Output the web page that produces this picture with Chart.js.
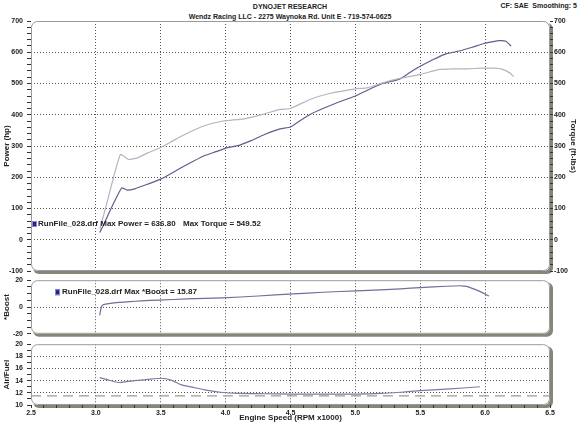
<!DOCTYPE html>
<html>
<head>
<meta charset="utf-8">
<script src="https://cdn.jsdelivr.net/npm/chart.js@4.4.0/dist/chart.umd.min.js"></script>
<style>
  body { margin:0; background:#fff; width:580px; height:423px; overflow:hidden; position:relative; font-family:"Liberation Sans", Arial, sans-serif; }
  canvas { position:absolute; left:0; }
  .hdr { position:absolute; font-weight:bold; font-size:7px; color:#222; white-space:nowrap; line-height:9px; }
</style>
</head>
<body>
<div class="hdr" style="left:0;width:580px;text-align:center;top:2px">DYNOJET RESEARCH</div>
<div class="hdr" style="left:0;width:580px;text-align:center;top:12px">Wendz Racing LLC - 2275 Waynoka Rd. Unit E - 719-574-0625</div>
<div class="hdr" style="right:3px;top:1px">CF: SAE&nbsp;&nbsp;Smoothing: 5</div>

<canvas id="cMain" width="580" height="280" style="top:0"></canvas>
<canvas id="cBoost" width="580" height="70" style="top:272px"></canvas>
<canvas id="cAf" width="580" height="87" style="top:336px"></canvas>

<script>
// Power (hp) vs engine speed (RPM x1000)
const powerRpm = [3.03, 3.06, 3.10, 3.15, 3.20, 3.24, 3.30, 3.40, 3.50, 3.60, 3.70, 3.83, 3.92, 4.01, 4.11, 4.20, 4.30, 4.42, 4.50, 4.57, 4.65, 4.75, 4.85, 5.00, 5.10, 5.21, 5.34, 5.42, 5.50, 5.60, 5.70, 5.80, 5.90, 5.99, 6.05, 6.11, 6.16, 6.20];
const powerHp  = [23, 48, 85, 128, 166, 159, 163, 178, 194, 217, 240, 268, 281, 294, 303, 318, 337, 355, 361, 380, 401, 420, 437, 460, 480, 500, 514, 535, 555, 577, 595, 604, 616, 628, 633, 637, 635, 620];

// Torque (ft-lbs)
const torqueRpm = [3.03, 3.08, 3.13, 3.19, 3.25, 3.32, 3.40, 3.50, 3.60, 3.70, 3.83, 3.98, 4.14, 4.30, 4.42, 4.50, 4.65, 4.80, 5.00, 5.09, 5.21, 5.35, 5.50, 5.65, 5.75, 5.86, 5.98, 6.07, 6.13, 6.19, 6.22];
const torqueLb  = [33, 110, 190, 273, 257, 262, 278, 295, 318, 340, 364, 380, 387, 403, 417, 420, 449, 468, 483, 486, 502, 517, 529, 545, 547, 547, 549, 549, 546, 534, 522];

// Boost (psi)
const boostRpm = [3.03, 3.035, 3.045, 3.06, 3.10, 3.18, 3.26, 3.35, 3.49, 3.70, 3.98, 4.25, 4.52, 4.75, 5.01, 5.19, 5.35, 5.50, 5.70, 5.80, 5.84, 5.87, 5.95, 6.03];
const boostPsi = [-6.2, -3.0, 0.6, 1.8, 2.5, 3.4, 4.0, 4.6, 5.2, 6.0, 6.8, 8.2, 9.8, 11.0, 12.1, 12.8, 13.6, 14.5, 15.5, 15.87, 15.6, 15.0, 12.0, 8.2];

// Air/Fuel ratio
const afRpm   = [3.03, 3.10, 3.18, 3.30, 3.40, 3.50, 3.58, 3.66, 3.75, 3.85, 3.96, 4.10, 4.30, 4.50, 4.75, 5.01, 5.20, 5.35, 5.50, 5.70, 5.96];
const afRatio = [14.5, 14.1, 13.7, 14.0, 14.2, 14.4, 14.1, 13.3, 12.9, 12.45, 12.1, 11.9, 11.85, 11.8, 11.8, 11.8, 11.9, 12.1, 12.35, 12.6, 13.0];
const afTarget = 11.5;

const rpmMin = 2.5, rpmMax = 6.5;
const legendMain = ['RunFile_028.drf Max Power = 636.80', 'Max Torque = 549.52'];
const legendBoost = 'RunFile_028.drf Max *Boost = 15.87';

const pts = (xs, ys) => xs.map((x, i) => ({ x, y: ys[i] }));

Chart.defaults.font.family = '"Liberation Sans", Arial, sans-serif';
Chart.defaults.font.size = 7;
Chart.defaults.font.weight = 'bold';
Chart.defaults.color = '#222';

const GRID = '#555';
const titleFont = { size: 8, weight: 'bold' };

function rrect(c, x, y, w, h, r) {
    c.beginPath();
    c.moveTo(x + r, y);
    c.arcTo(x + w, y, x + w, y + h, r);
    c.arcTo(x + w, y + h, x, y + h, r);
    c.arcTo(x, y + h, x, y, r);
    c.arcTo(x, y, x + w, y, r);
    c.closePath();
}

// caixa do painel com sombra
const panelPlugin = {
    id: 'panel',
    beforeDraw(chart) {
        const a = chart.chartArea, c = chart.ctx;
        c.save();
        c.fillStyle = '#85857a';
        rrect(c, a.left + 2, a.top + 2, a.width + 1, a.height + 1, 6);
        c.fill();
        c.fillStyle = '#fff';
        rrect(c, a.left, a.top, a.width, a.height, 6);
        c.fill();
        c.restore();
    },
    afterDraw(chart) {
        const a = chart.chartArea, c = chart.ctx;
        c.save();
        c.strokeStyle = '#9a9a9a';
        c.lineWidth = 1;
        rrect(c, a.left + 0.5, a.top + 0.5, a.width - 1, a.height - 1, 6);
        c.stroke();
        const leg = chart.options.plugins.panel;
        if (leg && leg.texts) {
            const x = a.left + leg.dx, y = a.top + leg.dy;
            c.fillStyle = '#23238a';
            c.fillRect(x, y - 3, 5, 6);
            c.strokeStyle = '#8888cc';
            c.strokeRect(x + 0.5, y - 2.5, 4, 5);
            c.fillStyle = '#222';
            c.font = 'bold 8px "Liberation Sans", Arial, sans-serif';
            c.textBaseline = 'middle';
            leg.texts.forEach(t => c.fillText(t.s, a.left + t.x, y));
        }
        c.restore();
    }
};

const isHalf = v => Math.round(v * 10) % 5 === 0;

function xScale(showLabels) {
    return {
        type: 'linear', min: rpmMin, max: rpmMax,
        ticks: {
            display: showLabels, stepSize: showLabels ? 0.1 : 0.5, autoSkip: false, maxRotation: 0, padding: 1,
            callback: v => isHalf(v) ? v.toFixed(1) : ''
        },
        grid: {
            drawTicks: showLabels, tickLength: 3, tickColor: '#333',
            color: ctx => (isHalf(ctx.tick.value) && ctx.tick.value > rpmMin + 0.01 && ctx.tick.value < rpmMax - 0.01) ? GRID : 'transparent'
        },
        border: { display: false, dash: [1, 2] },
        title: { display: showLabels, text: 'Engine Speed (RPM x1000)', font: titleFont, padding: { top: 0, bottom: 0 } },
        afterFit: s => { s.height = showLabels ? 18 : 0; }
    };
}

function yScale(pos, min, max, minor, major, title, width, showGrid) {
    return {
        type: 'linear', position: pos, min, max,
        ticks: {
            stepSize: minor, autoSkip: false, padding: pos === 'left' ? 4 : 1,
            callback: v => (Math.abs(v % major) < 1e-6) ? v : ''
        },
        grid: {
            drawOnChartArea: showGrid, tickLength: pos === 'left' ? 4 : 3, tickColor: '#333',
            color: ctx => (Math.abs(ctx.tick.value % major) < 1e-6 && ctx.tick.value > min && ctx.tick.value < max) ? GRID : 'transparent'
        },
        border: { display: false, dash: [1, 2] },
        title: { display: true, text: title, font: titleFont, padding: { top: 2, bottom: 0 } },
        afterFit: s => { s.width = width; }
    };
}

const common = {
    responsive: false, animation: false, devicePixelRatio: 1,
    elements: { point: { radius: 0 }, line: { tension: 0.15, borderWidth: 1.2 } }
};

new Chart(document.getElementById('cMain'), {
    type: 'line',
    data: {
        datasets: [
            { label: 'Torque', data: pts(torqueRpm, torqueLb), borderColor: '#b4b4c2', yAxisID: 'y2' },
            { label: 'Power', data: pts(powerRpm, powerHp), borderColor: '#5c5f8c', yAxisID: 'y' }
        ]
    },
    options: {
        ...common,
        layout: { padding: { top: 21, bottom: 9, left: 0, right: 0 } },
        scales: {
            x: xScale(false),
            y: yScale('left', -100, 700, 20, 100, 'Power (hp)', 31, true),
            y2: yScale('right', -100, 700, 20, 100, 'Torque (ft-lbs)', 30, false)
        },
        plugins: {
            legend: { display: false }, tooltip: { enabled: false },
            panel: { dx: 1, dy: 203, texts: [{ s: legendMain[0], x: 7 }, { s: legendMain[1], x: 152 }] }
        }
    },
    plugins: [panelPlugin]
});

new Chart(document.getElementById('cBoost'), {
    type: 'line',
    data: {
        datasets: [
            { label: 'Boost', data: pts(boostRpm, boostPsi), borderColor: '#6e7098' }
        ]
    },
    options: {
        ...common,
        layout: { padding: { top: 5, bottom: 7, left: 0, right: 30 } },
        scales: {
            x: xScale(false),
            y: yScale('left', -20, 20, 5, 20, '*Boost', 31, true)
        },
        plugins: {
            legend: { display: false }, tooltip: { enabled: false },
            panel: { dx: 24, dy: 12, texts: [{ s: legendBoost, x: 31 }] }
        }
    },
    plugins: [panelPlugin]
});

new Chart(document.getElementById('cAf'), {
    type: 'line',
    data: {
        datasets: [
            { label: 'Target', data: pts([rpmMin, rpmMax], [afTarget, afTarget]), borderColor: '#a39a8a', borderDash: [10, 6], tension: 0 },
            { label: 'Air/Fuel', data: pts(afRpm, afRatio), borderColor: '#7a7ca2' }
        ]
    },
    options: {
        ...common,
        layout: { padding: { top: 6, bottom: 0, left: 0, right: 30 } },
        scales: {
            x: xScale(true),
            y: yScale('left', 10, 20, 1, 2, 'Air/Fuel', 31, true)
        },
        plugins: { legend: { display: false }, tooltip: { enabled: false }, panel: {} }
    },
    plugins: [panelPlugin]
});
</script>
</body>
</html>
